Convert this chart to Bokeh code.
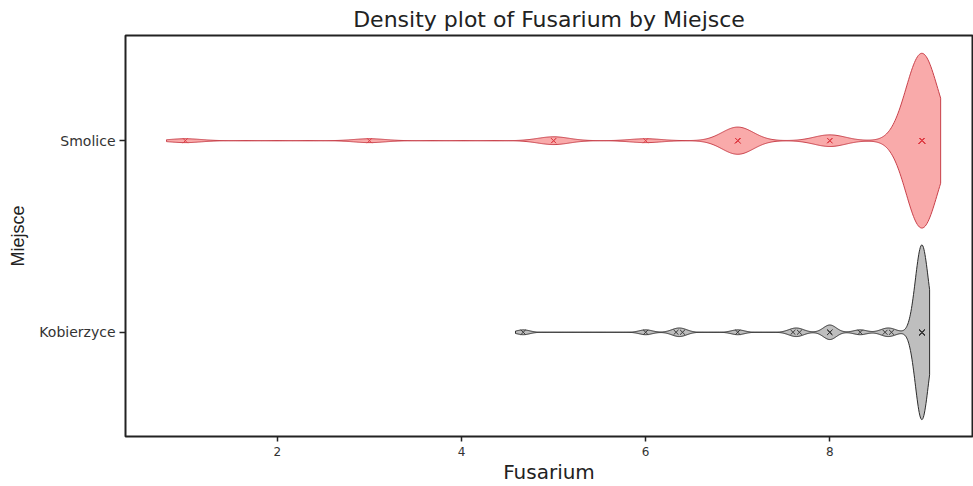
import numpy as np
from bokeh.plotting import figure
from bokeh.models import FixedTicker, Range1d
from bokeh.embed import file_html
from bokeh.resources import INLINE

# ---- data ----
groups = ["Kobierzyce", "Smolice"]
group_pos = [1, 2]
smolice_values = [1, 3, 5, 5, 6] + [7] * 7 + [8] * 3 + [9] * 45
kobierzyce_values = [4.67, 6, 6.33, 6.4, 7, 7.6, 7.67, 8, 8, 8, 8.33, 8.6, 8.67] + [9] * 36
bandwidth = [0.07, 0.17]          # Kobierzyce, Smolice
x_ticks = [2, 4, 6, 8]
x_title = "Fusarium"
y_title = "Miejsce"
chart_title = "Density plot of Fusarium by Miejsce"

fill_colors = ["#BEBEBE", "#F9AAAA"]
line_colors = ["#2B2B2B", "#C8404A"]
point_colors = ["#3A3A3A", "#E04048"]

values = [kobierzyce_values, smolice_values]

p = figure(width=973, height=486, output_backend="svg", toolbar_location=None,
           x_range=Range1d(0.35, 9.55), y_range=Range1d(0.456, 2.549),
           title=chart_title,
           min_border_left=125, min_border_right=1, min_border_top=0, min_border_bottom=0)

half_width = 0.456
for pos, vals, bw, fc, lc, pc in zip(group_pos, values, bandwidth, fill_colors, line_colors, point_colors):
    v = np.asarray(vals, dtype=float)
    grid = np.linspace(v.min() - 1.2 * bw, v.max() + 1.2 * bw, 800)
    dens = np.exp(-((grid[:, None] - v[None, :]) ** 2) / (2 * bw * bw)).sum(axis=1)
    dens = dens / dens.max() * half_width
    xs = np.concatenate([grid, grid[::-1]])
    ys = np.concatenate([pos + dens, (pos - dens)[::-1]])
    p.patch(xs, ys, fill_color=fc, line_color=lc, line_width=1)
    p.scatter(v, [pos] * len(v), marker="x", size=7, line_color=pc, line_width=1)

p.title.align = "center"
p.title.text_font = "DejaVu Sans"
p.title.text_font_size = "22px"
p.title.text_font_style = "normal"
p.title.text_color = "#222222"
p.title.standoff = 8
p.title.offset = 0

p.xgrid.visible = False
p.ygrid.visible = False
p.outline_line_color = "#222222"
p.outline_line_width = 2
p.outline_line_alpha = 1
p.background_fill_color = "white"
p.border_fill_color = "white"

xa = p.xaxis[0]
xa.ticker = FixedTicker(ticks=x_ticks)
xa.axis_label = x_title
xa.axis_label_text_font = "DejaVu Sans"
xa.axis_label_text_font_size = "20px"
xa.axis_label_text_font_style = "normal"
xa.axis_label_text_color = "#222222"
xa.major_label_text_font = "DejaVu Sans"
xa.major_label_text_font_size = "12px"
xa.major_label_text_color = "#333333"
xa.axis_line_color = None
xa.major_tick_line_color = "#222222"
xa.major_tick_line_width = 1.5
xa.major_tick_in = 0
xa.major_tick_out = 5
xa.minor_tick_line_color = None
xa.major_label_standoff = 5
xa.axis_label_standoff = 1

ya = p.yaxis[0]
ya.ticker = FixedTicker(ticks=group_pos)
ya.major_label_overrides = {pos: name for pos, name in zip(group_pos, groups)}
ya.axis_label = y_title
ya.axis_label_text_font = "Liberation Sans"
ya.axis_label_text_font_size = "18px"
ya.axis_label_text_font_style = "normal"
ya.axis_label_text_color = "#222222"
ya.major_label_text_font = "DejaVu Sans"
ya.major_label_text_font_size = "14px"
ya.major_label_text_color = "#333333"
ya.axis_line_color = None
ya.major_tick_line_color = "#222222"
ya.major_tick_line_width = 1.5
ya.major_tick_in = 0
ya.major_tick_out = 6
ya.minor_tick_line_color = None
ya.major_label_standoff = 4
ya.axis_label_standoff = 8

open("out.html", "w").write(file_html(p, INLINE))
